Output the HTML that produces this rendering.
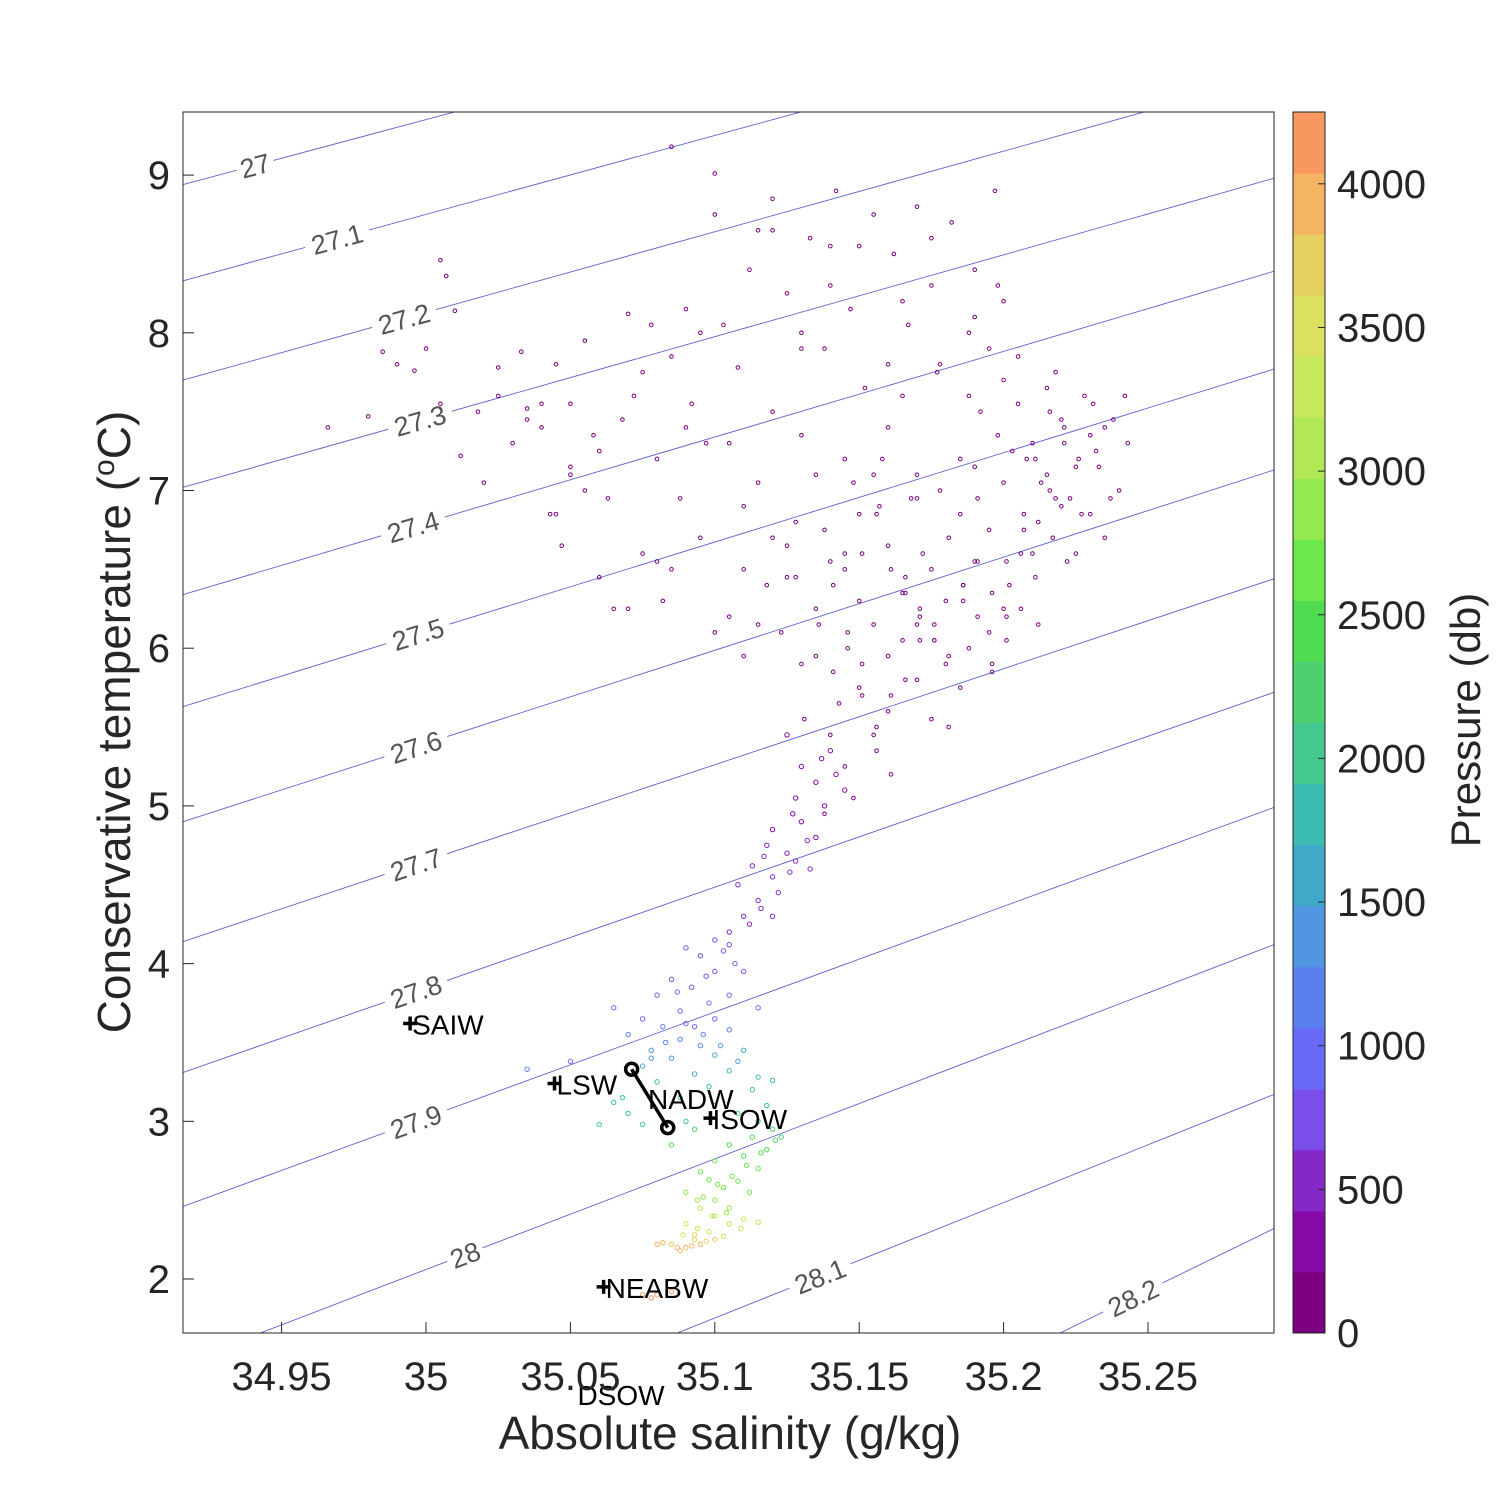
<!DOCTYPE html>
<html><head><meta charset="utf-8">
<style>
html,body{margin:0;padding:0;background:#fff;width:1500px;height:1500px;overflow:hidden;}
svg{display:block;font-family:"Liberation Sans",Arial,sans-serif;}
</style></head>
<body>
<svg id="chart" width="1500" height="1500" viewBox="0 0 1500 1500" xmlns="http://www.w3.org/2000/svg">
<rect width="1500" height="1500" fill="#fff"/>
<defs><clipPath id="plotclip"><rect x="183" y="112" width="1091" height="1221"/></clipPath></defs>
<g id="contours" clip-path="url(#plotclip)"></g>
<g id="clabels"></g>
<g id="points" clip-path="url(#plotclip)"></g>
<g id="masses"></g>
<rect x="183" y="112" width="1091" height="1221" fill="none" stroke="#262626" stroke-width="1"/>
<g id="axes"></g>
<g id="cbar"></g>
<text x="730" y="1449" text-anchor="middle" font-size="46" fill="#262626">Absolute salinity (g/kg)</text>
<text transform="translate(130,722) rotate(-90)" text-anchor="middle" font-size="46" fill="#262626">Conservative temperature (<tspan baseline-shift="super" font-size="30">o</tspan>C)</text>
<text transform="translate(1480,720) rotate(-90)" text-anchor="middle" font-size="42" fill="#262626">Pressure (db)</text>
</svg>
<script>
// ---- data ----
const xTicks = [34.95, 35, 35.05, 35.1, 35.15, 35.2, 35.25];
const xTickLabels = ["34.95","35","35.05","35.1","35.15","35.2","35.25"];
const yTicks = [2,3,4,5,6,7,8,9];
const cTicks = [0,500,1000,1500,2000,2500,3000,3500,4000];
const cColors = ["#7a0080","#870aa8","#8428c8","#7a4ee8","#6a6af8","#5a80f0","#5096e0","#40a8c8","#3cbcb0","#44c890","#4ed070","#50dc50","#6ce84c","#94e850","#b2e858","#c8e85c","#dce060","#e6d060","#f4b464","#f89860"];
const isoLevels = ["27","27.1","27.2","27.3","27.4","27.5","27.6","27.7","27.8","27.9","28","28.1","28.2"];
const isoTLeft  = [8.94, 8.33, 7.70, 7.02, 6.34, 5.63, 4.90, 4.14, 3.31, 2.46, 1.47, 0.405, -1.06];
const isoTRight = [10.79,10.22,9.63, 8.98, 8.39, 7.77, 7.13, 6.44, 5.72, 4.99, 4.12, 3.17, 2.32];
const isoLabelS = [34.9408,34.9692,34.9924,34.9979,34.9955,34.9972,34.9965,34.9965,34.9965,34.9965,35.0135,35.1364,35.2448];
const upperS = [34.966,34.98,34.985,34.99,34.996,35.00,35.005,35.007,35.01,35.005,35.012,35.018,35.02,35.025,35.03,35.035,35.033,35.04,35.045,35.043,35.05,35.05,35.055,35.058,35.047,35.06,35.063,35.068,35.07,35.072,35.075,35.078,35.08,35.082,35.085,35.088,35.09,35.092,35.095,35.097,35.1,35.1,35.085,35.103,35.105,35.108,35.11,35.112,35.115,35.118,35.12,35.12,35.123,35.125,35.128,35.13,35.133,35.135,35.138,35.14,35.142,35.145,35.147,35.15,35.152,35.155,35.157,35.16,35.162,35.165,35.167,35.17,35.172,35.175,35.177,35.18,35.182,35.185,35.188,35.19,35.192,35.195,35.197,35.2,35.202,35.205,35.207,35.21,35.212,35.215,35.218,35.22,35.222,35.225,35.228,35.23,35.232,35.235,35.238,35.24,35.242,35.215,35.21,35.2,35.205,35.198,35.19,35.185,35.18,35.175,35.17,35.165,35.16,35.155,35.15,35.145,35.14,35.135,35.13,35.125,35.12,35.115,35.11,35.145,35.16,35.17,35.178,35.188,35.195,35.23,35.22,35.218,35.208,35.2,35.19,35.225,35.235,35.212,35.17,35.16,35.15,35.165,35.175,35.185,35.195,35.155,35.148,35.138,35.143,
35.203,35.213,35.223,35.233,35.243,35.207,35.217,35.227,35.237,35.201,35.211,35.221,35.231,35.196,35.206,35.216,35.226,35.191,35.201,35.211,35.221,35.186,35.196,35.206,35.216,35.181,35.191,35.201,35.176,35.186,35.196,35.171,35.181,35.191,35.166,35.176,35.186,35.161,35.171,35.181,35.156,35.166,35.176,35.151,35.161,35.171,35.146,35.156,35.166,35.141,35.151,35.161,35.136,35.146,35.156,35.131,35.141,35.151,35.128,35.138,35.148,35.158,35.168,35.178,35.188,35.198,35.125,35.135,35.145,35.155,35.165,35.175,35.115,35.105,35.095,35.085,35.075,35.065,35.055,35.045,35.035,35.025,35.11,35.1,35.09,35.08,35.07,35.06,35.05,35.04,35.13,35.14,35.15,35.16,35.17,35.12,35.13,35.14,35.19,35.2];
const upperT = [7.40,7.47,7.88,7.80,7.76,7.90,8.46,8.36,8.14,7.55,7.22,7.50,7.05,7.78,7.30,7.52,7.88,7.40,7.80,6.85,7.55,7.15,7.95,7.35,6.65,6.45,6.95,7.45,8.12,7.60,6.60,8.05,7.20,6.30,7.85,6.95,8.15,7.55,6.70,7.30,8.75,9.01,9.18,8.05,6.20,7.78,6.90,8.40,7.05,6.40,8.85,7.50,6.10,8.25,6.80,7.35,8.60,5.95,7.90,6.55,8.90,7.20,8.15,6.30,7.65,8.75,6.90,7.40,8.50,6.05,8.05,7.10,6.60,8.30,7.75,6.30,8.70,7.20,6.00,8.10,7.50,6.75,8.90,7.05,6.40,7.85,6.85,7.30,6.15,7.65,6.95,7.45,6.55,7.15,7.60,6.85,7.25,6.70,7.45,7.00,7.60,7.10,6.60,6.25,7.55,7.35,6.55,6.85,5.90,6.50,5.80,6.35,5.60,6.15,5.75,6.50,5.45,6.25,5.90,6.45,6.70,6.15,5.95,5.25,5.95,6.95,7.00,7.60,7.90,7.35,6.90,7.75,7.20,7.70,7.15,6.60,7.40,6.80,6.15,6.65,6.85,7.60,5.55,5.75,6.10,5.45,5.05,4.95,5.65,
7.25,7.05,6.95,7.15,7.30,6.75,6.70,6.85,6.95,6.55,6.45,7.30,7.55,6.35,6.25,7.50,7.20,6.20,6.05,7.20,7.40,6.40,5.85,6.60,7.00,6.70,6.95,6.20,6.05,6.40,5.90,6.25,5.95,6.55,6.45,6.15,6.30,5.70,6.05,5.50,6.85,6.35,6.05,5.70,6.50,6.20,6.00,5.35,5.80,6.40,6.60,5.20,6.15,6.10,5.50,5.55,5.85,5.90,6.45,6.75,7.05,7.20,6.95,7.80,8.00,8.30,6.65,7.10,6.60,7.10,8.20,8.60,8.65,7.30,8.00,6.50,7.75,6.25,7.00,6.85,7.45,7.60,6.50,6.10,7.40,6.55,6.25,7.25,7.10,7.55,7.90,8.30,8.55,7.80,8.80,8.65,8.00,8.55,8.40,8.20];
const upperP = 200;
const deepS = [35.135,35.13,35.128,35.14,35.125,35.12,35.118,35.128,35.115,35.11,35.108,35.105,35.12,35.133,35.135,35.13,35.125,35.145,35.12,35.113,35.1,35.105,
35.09,35.095,35.1,35.085,35.092,35.105,35.08,35.098,35.088,35.1,35.075,35.093,35.082,35.105,35.07,35.088,35.095,35.078,35.05,35.035,35.065,35.11,35.103,35.115,
35.085,35.1,35.11,35.075,35.093,35.105,35.08,35.098,35.115,35.12,35.065,35.07,35.06,35.075,35.068,35.088,
35.09,35.1,35.108,35.115,35.12,35.113,35.105,35.118,35.123,35.11,35.1,35.115,35.095,35.108,35.112,35.1,35.09,35.105,35.085,35.093,
35.095,35.1,35.105,35.09,35.098,35.11,35.093,35.103,35.115,
35.085,35.09,35.095,35.08,35.1,35.093,35.088,
35.075,35.08,35.085,35.078,
35.138,35.132,35.126,35.122,35.116,35.112,35.142,35.137,35.127,35.117,35.107,35.097,35.087,35.09,35.083,35.078,35.072,35.096,35.102,35.108,35.113,35.118,35.121,35.116,35.111,35.106,35.101,35.096,35.104,35.109,35.099,35.094,35.089,35.097,35.092,35.087,35.082,35.098,35.103,35.094];
const deepT = [5.15,4.90,5.05,5.35,4.70,4.55,4.75,4.65,4.40,4.30,4.50,4.20,4.30,4.60,4.80,5.25,5.45,5.10,4.85,4.62,4.15,4.12,
4.10,4.05,3.95,3.90,3.85,3.80,3.80,3.75,3.70,3.65,3.65,3.60,3.60,3.58,3.55,3.52,3.48,3.45,3.38,3.33,3.72,3.95,4.08,3.72,
3.40,3.42,3.45,3.35,3.30,3.32,3.25,3.22,3.28,3.26,3.12,3.05,2.98,2.98,3.15,3.15,
3.00,3.10,3.05,3.00,2.95,2.90,2.85,2.82,2.90,2.78,2.75,2.70,2.68,2.62,2.55,2.50,2.55,2.45,2.85,2.95,
2.45,2.40,2.35,2.35,2.30,2.38,2.28,2.27,2.36,
2.22,2.20,2.22,2.22,2.25,2.25,2.18,
1.90,1.90,1.92,1.88,
5.00,4.78,4.58,4.45,4.35,4.25,5.20,5.30,4.95,4.68,4.00,3.92,3.82,3.62,3.50,3.40,3.30,3.55,3.48,3.38,3.20,3.10,2.88,2.80,2.72,2.65,2.60,2.52,2.42,2.32,2.40,2.32,2.28,2.24,2.21,2.20,2.23,2.63,2.58,2.50];
const deepP = [350,400,380,330,450,480,430,470,520,560,500,600,540,460,420,360,330,360,420,480,650,640,
700,720,760,800,820,850,880,900,950,980,1000,1050,1080,1100,1150,1200,1250,1300,1000,1100,1050,800,700,1000,
1450,1500,1550,1600,1650,1700,1750,1800,1850,1900,1900,1950,2000,2000,1850,1900,
2100,2150,2200,2250,2300,2350,2400,2450,2300,2500,2550,2600,2650,2700,2750,2800,2850,2900,2400,2200,
3000,3100,3200,3250,3350,3300,3450,3500,3100,
3800,3850,3900,3900,3800,3700,3950,
4150,4150,4100,4200,
380,440,490,510,530,560,340,330,400,470,720,780,860,1050,1150,1300,1500,1200,1350,1450,1750,1900,2300,2450,2550,2650,2700,2800,2950,3300,3050,3350,3500,3800,3900,3900,3850,2650,2750,2850];
const massNames = ["SAIW","LSW","ISOW","NEABW"];
const massS = [34.9945,35.0445,35.0985,35.0615];
const massT = [3.62,3.24,3.02,1.95];
const nadwS = [35.0712,35.0837];
const nadwT = [3.33,2.96];

// ---- scales ----
const X0=183,X1=1274,Y0=112,Y1=1333;
const sx = s => 426 + (s-35)*2888;
const ty = t => 1279 - (t-2)*157.7;
const pMax = 4250;
const py = p => 1333 - p/pMax*1221;
const pColor = p => cColors[Math.min(cColors.length-1, Math.max(0, Math.floor(p/(pMax/cColors.length))))];
const NS="http://www.w3.org/2000/svg";
function mk(tag, attrs, parent){const e=document.createElementNS(NS,tag);for(const k in attrs)e.setAttribute(k,attrs[k]);parent.appendChild(e);return e;}
const SL=34.9159, SR=35.2936;

// isopycnals
const gC=document.getElementById('contours'), gL=document.getElementById('clabels');
isoLevels.forEach((lv,i)=>{
  const l=mk('line',{x1:sx(SL),y1:ty(isoTLeft[i]),x2:sx(SR),y2:ty(isoTRight[i]),stroke:'#6262cc','stroke-width':0.9},gC);
  
  
  const s=isoLabelS[i];
  const slope=(isoTRight[i]-isoTLeft[i])/(SR-SL);
  const t=isoTLeft[i]+(s-SL)*slope;
  const x=sx(s), y=ty(t);
  const ang=-Math.atan(slope*157.7/2888)*180/Math.PI;
  const g=mk('g',{transform:`translate(${x},${y}) rotate(${ang})`},gL);
  const w=lv.length*14+10;
  mk('rect',{x:-w/2,y:-14,width:w,height:28,fill:'#fff'},g);
  const tx=mk('text',{x:0,y:10,'text-anchor':'middle','font-size':27,fill:'#555'},g);
  tx.textContent=lv;
  
  
});

// points
const gP=document.getElementById('points');
upperS.forEach((s,i)=>{
  const c=mk('circle',{cx:sx(s),cy:ty(upperT[i]),r:1.8,fill:'none',stroke:pColor(upperP),'stroke-width':1},gP);
  
  
});
deepS.forEach((s,i)=>{
  const c=mk('circle',{cx:sx(s),cy:ty(deepT[i]),r:2.2,fill:'none',stroke:pColor(deepP[i]),'stroke-width':1},gP);
  
  
});

// water masses
const gM=document.getElementById('masses');
massNames.forEach((n,i)=>{
  const x=sx(massS[i]), y=ty(massT[i]);
  const p=mk('path',{d:`M${x-7},${y}H${x+7}M${x},${y-7}V${y+7}`,stroke:'#000','stroke-width':3.5},gM);
  
  
  const t=mk('text',{x:x+2,y:y+11,'font-size':28,fill:'#000'},gM);
  t.textContent=n;
  
  
});
const nl=mk('line',{x1:sx(nadwS[0]),y1:ty(nadwT[0]),x2:sx(nadwS[1]),y2:ty(nadwT[1]),stroke:'#000','stroke-width':3.5},gM);


nadwS.forEach((s,i)=>{
  const c=mk('circle',{cx:sx(s),cy:ty(nadwT[i]),r:6,fill:'none',stroke:'#000','stroke-width':3.5},gM);
  
  
});
const nt=mk('text',{x:648,y:1109,'font-size':28,fill:'#000'},gM);
nt.textContent='NADW';


const dt=mk('text',{x:621,y:1405,'text-anchor':'middle','font-size':28,fill:'#000'},gM);
dt.textContent='DSOW';



// axes
const gA=document.getElementById('axes');
xTicks.forEach((v,i)=>{
  const x=sx(v);
  mk('line',{x1:x,y1:Y1,x2:x,y2:Y1-11,stroke:'#262626','stroke-width':1},gA);
  const t=mk('text',{x:x,y:1390,'text-anchor':'middle','font-size':40,fill:'#262626'},gA);
  t.textContent=xTickLabels[i];
  
  
});
yTicks.forEach(v=>{
  const y=ty(v);
  mk('line',{x1:X0,y1:y,x2:X0+11,y2:y,stroke:'#262626','stroke-width':1},gA);
  const t=mk('text',{x:170,y:y+14,'text-anchor':'end','font-size':40,fill:'#262626'},gA);
  t.textContent=String(v);
  
  
});

// colorbar
const gB=document.getElementById('cbar');
const bandH=pMax/cColors.length;
cColors.forEach((c,i)=>{
  const r=mk('rect',{x:1293,y:py((i+1)*bandH),width:32,height:py(i*bandH)-py((i+1)*bandH)+0.5,fill:c},gB);
  
  
});
mk('rect',{x:1293,y:112,width:32,height:1221,fill:'none',stroke:'#262626','stroke-width':1},gB);
cTicks.forEach(v=>{
  const y=py(v);
  mk('line',{x1:1318,y1:y,x2:1325,y2:y,stroke:'#262626','stroke-width':1},gB);
  const t=mk('text',{x:1337,y:y+14,'font-size':40,fill:'#262626'},gB);
  t.textContent=String(v);
  
  
});
</script>
</body></html>
